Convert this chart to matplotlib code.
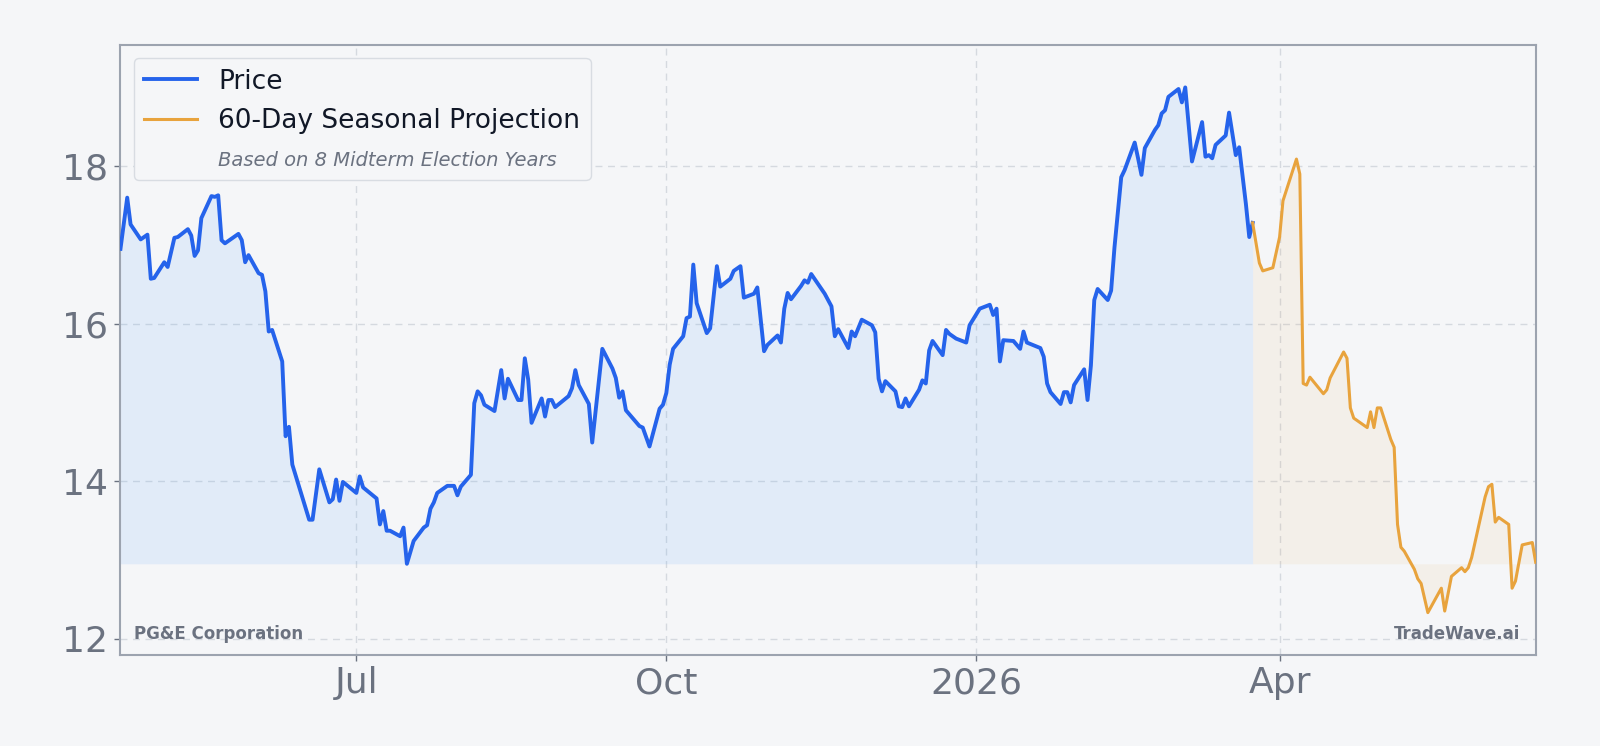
import pandas as pd
import matplotlib
matplotlib.use("Agg")
import matplotlib.pyplot as plt
import matplotlib.dates as mdates

# PG&E daily close (vertices)
price_dates = [
    "2025-04-22", "2025-04-24", "2025-04-25", "2025-04-28", "2025-04-30", "2025-05-01",
    "2025-05-02", "2025-05-05", "2025-05-06", "2025-05-08", "2025-05-09", "2025-05-12",
    "2025-05-13", "2025-05-14", "2025-05-15", "2025-05-16", "2025-05-19", "2025-05-20",
    "2025-05-21", "2025-05-22", "2025-05-23", "2025-05-27", "2025-05-28", "2025-05-29",
    "2025-05-30", "2025-06-02", "2025-06-03", "2025-06-04", "2025-06-05", "2025-06-06",
    "2025-06-09", "2025-06-10", "2025-06-11", "2025-06-12", "2025-06-17", "2025-06-18",
    "2025-06-20", "2025-06-23", "2025-06-24", "2025-06-25", "2025-06-26", "2025-06-27",
    "2025-07-01", "2025-07-02", "2025-07-03", "2025-07-07", "2025-07-08", "2025-07-09",
    "2025-07-10", "2025-07-11", "2025-07-14", "2025-07-15", "2025-07-16", "2025-07-18",
    "2025-07-21", "2025-07-22", "2025-07-23", "2025-07-24", "2025-07-25", "2025-07-28",
    "2025-07-30", "2025-07-31", "2025-08-01", "2025-08-04", "2025-08-05", "2025-08-06",
    "2025-08-07", "2025-08-08", "2025-08-11", "2025-08-13", "2025-08-14", "2025-08-15",
    "2025-08-18", "2025-08-19", "2025-08-20", "2025-08-21", "2025-08-22", "2025-08-25",
    "2025-08-26", "2025-08-27", "2025-08-28", "2025-08-29", "2025-09-02", "2025-09-03",
    "2025-09-04", "2025-09-05", "2025-09-08", "2025-09-09", "2025-09-12", "2025-09-15",
    "2025-09-16", "2025-09-17", "2025-09-18", "2025-09-19", "2025-09-22", "2025-09-23",
    "2025-09-24", "2025-09-26", "2025-09-29", "2025-09-30", "2025-10-01", "2025-10-02",
    "2025-10-03", "2025-10-06", "2025-10-07", "2025-10-08", "2025-10-09", "2025-10-10",
    "2025-10-13", "2025-10-14", "2025-10-16", "2025-10-17", "2025-10-20", "2025-10-21",
    "2025-10-23", "2025-10-24", "2025-10-27", "2025-10-28", "2025-10-30", "2025-10-31",
    "2025-11-03", "2025-11-04", "2025-11-05", "2025-11-06", "2025-11-07", "2025-11-10",
    "2025-11-11", "2025-11-12", "2025-11-13", "2025-11-17", "2025-11-19", "2025-11-20",
    "2025-11-21", "2025-11-24", "2025-11-25", "2025-11-26", "2025-11-28", "2025-12-01",
    "2025-12-02", "2025-12-03", "2025-12-04", "2025-12-05", "2025-12-08", "2025-12-09",
    "2025-12-10", "2025-12-11", "2025-12-12", "2025-12-15", "2025-12-16", "2025-12-17",
    "2025-12-18", "2025-12-19", "2025-12-22", "2025-12-23", "2025-12-24", "2025-12-26",
    "2025-12-29", "2025-12-30", "2026-01-02", "2026-01-05", "2026-01-06", "2026-01-07",
    "2026-01-08", "2026-01-09", "2026-01-12", "2026-01-14", "2026-01-15", "2026-01-16",
    "2026-01-20", "2026-01-21", "2026-01-22", "2026-01-23", "2026-01-26", "2026-01-27",
    "2026-01-28", "2026-01-29", "2026-01-30", "2026-02-02", "2026-02-03", "2026-02-04",
    "2026-02-05", "2026-02-06", "2026-02-09", "2026-02-10", "2026-02-11", "2026-02-13",
    "2026-02-14", "2026-02-17", "2026-02-18", "2026-02-19", "2026-02-20", "2026-02-23",
    "2026-02-24", "2026-02-25", "2026-02-26", "2026-02-27", "2026-03-02", "2026-03-03",
    "2026-03-04", "2026-03-06", "2026-03-09", "2026-03-10", "2026-03-11", "2026-03-12",
    "2026-03-13", "2026-03-16", "2026-03-17", "2026-03-19", "2026-03-20", "2026-03-22",
    "2026-03-23", "2026-03-24",
]
price_values = [
    16.95, 17.60, 17.26, 17.07, 17.13, 16.57,
    16.58, 16.78, 16.72, 17.09, 17.10, 17.20,
    17.12, 16.86, 16.93, 17.34, 17.62, 17.61,
    17.63, 17.06, 17.02, 17.14, 17.06, 16.78,
    16.87, 16.64, 16.62, 16.41, 15.90, 15.92,
    15.52, 14.57, 14.69, 14.21, 13.51, 13.51,
    14.15, 13.73, 13.77, 14.02, 13.75, 13.99,
    13.85, 14.06, 13.92, 13.78, 13.45, 13.62,
    13.37, 13.37, 13.30, 13.41, 12.95, 13.24,
    13.41, 13.44, 13.65, 13.73, 13.85, 13.94,
    13.94, 13.82, 13.93, 14.08, 14.99, 15.14,
    15.09, 14.97, 14.89, 15.41, 15.05, 15.30,
    15.03, 15.03, 15.56, 15.29, 14.74, 15.05,
    14.82, 15.03, 15.03, 14.94, 15.08, 15.18,
    15.41, 15.22, 14.98, 14.49, 15.68, 15.43,
    15.31, 15.06, 15.14, 14.90, 14.75, 14.70,
    14.68, 14.44, 14.92, 14.97, 15.12, 15.48,
    15.68, 15.84, 16.07, 16.09, 16.75, 16.26,
    15.88, 15.94, 16.73, 16.47, 16.57, 16.67,
    16.73, 16.33, 16.38, 16.46, 15.65, 15.73,
    15.85, 15.76, 16.19, 16.39, 16.31, 16.48,
    16.55, 16.52, 16.63, 16.38, 16.22, 15.84,
    15.93, 15.69, 15.90, 15.84, 16.05, 15.98,
    15.89, 15.30, 15.14, 15.27, 15.14, 14.95,
    14.94, 15.05, 14.95, 15.16, 15.28, 15.24,
    15.66, 15.78, 15.60, 15.92, 15.87, 15.81,
    15.76, 15.98, 16.19, 16.24, 16.11, 16.19,
    15.52, 15.79, 15.78, 15.68, 15.90, 15.76,
    15.69, 15.58, 15.24, 15.13, 14.98, 15.13,
    15.13, 15.00, 15.22, 15.42, 15.03, 15.47,
    16.30, 16.44, 16.30, 16.42, 16.97, 17.86,
    17.95, 18.30, 18.10, 17.89, 18.23, 18.46,
    18.52, 18.67, 18.71, 18.88, 18.98, 18.81,
    19.00, 18.06, 18.56, 18.12, 18.14, 18.10,
    18.27, 18.39, 18.68, 18.14, 18.24, 17.52,
    17.10, 17.28,
]

# 60-day seasonal projection (starts from the last close)
proj_dates = [
    "2026-03-24", "2026-03-26", "2026-03-27", "2026-03-30", "2026-04-01", "2026-04-02",
    "2026-04-06", "2026-04-07", "2026-04-08", "2026-04-09", "2026-04-10", "2026-04-14",
    "2026-04-15", "2026-04-16", "2026-04-20", "2026-04-21", "2026-04-22", "2026-04-23",
    "2026-04-27", "2026-04-28", "2026-04-29", "2026-04-30", "2026-05-01", "2026-05-04",
    "2026-05-05", "2026-05-06", "2026-05-07", "2026-05-08", "2026-05-11", "2026-05-12",
    "2026-05-13", "2026-05-15", "2026-05-19", "2026-05-20", "2026-05-22", "2026-05-25",
    "2026-05-26", "2026-05-27", "2026-05-28", "2026-06-01", "2026-06-02", "2026-06-03",
    "2026-06-04", "2026-06-05", "2026-06-08", "2026-06-09", "2026-06-10", "2026-06-12",
    "2026-06-15", "2026-06-16",
]
proj_values = [
    17.28, 16.77, 16.67, 16.71, 17.10, 17.56,
    18.09, 17.90, 15.24, 15.22, 15.32, 15.11,
    15.16, 15.31, 15.64, 15.56, 14.93, 14.80,
    14.68, 14.88, 14.68, 14.93, 14.93, 14.53,
    14.43, 13.45, 13.16, 13.11, 12.88, 12.76,
    12.70, 12.33, 12.64, 12.35, 12.79, 12.90,
    12.85, 12.90, 13.03, 13.80, 13.93, 13.96,
    13.48, 13.54, 13.45, 12.64, 12.73, 13.19,
    13.22, 12.97,
]

BG = "#f5f6f8"
BLUE = "#2563eb"
ORANGE = "#e8a33d"
GRAY = "#6b7280"

px = pd.to_datetime(price_dates)
pj = pd.to_datetime(proj_dates)
base = min(price_values)

fig = plt.figure(figsize=(16, 7.46), dpi=100, facecolor=BG)
ax = fig.add_axes([0.0753, 0.1218, 0.8845, 0.818])
ax.set_facecolor(BG)

ax.fill_between(px, price_values, base, color="#60a5fa", alpha=0.13, lw=0)
ax.fill_between(pj, proj_values, base, color=ORANGE, alpha=0.08, lw=0)
ax.plot(px, price_values, color=BLUE, lw=2.8, label="Price", zorder=3)
ax.plot(pj, proj_values, color=ORANGE, lw=2.2, label="60-Day Seasonal Projection", zorder=3)
ax.plot([], [], " ", label="Based on 8 Midterm Election Years")

ax.set_xlim(px[0], pj[-1])
ax.set_ylim(11.79, 19.54)
ax.set_yticks([12, 14, 16, 18])

ax.xaxis.set_major_locator(mdates.MonthLocator(bymonth=[1, 4, 7, 10]))
ax.xaxis.set_major_formatter(plt.FuncFormatter(
    lambda x, pos: mdates.num2date(x).strftime("%Y" if mdates.num2date(x).month == 1 else "%b")))

ax.grid(True, color="#d5d9df", linestyle=(0, (5, 4)), lw=1.0)
ax.set_axisbelow(True)
ax.tick_params(labelsize=26, colors=GRAY, length=4, width=1)
ax.tick_params(axis="x", pad=4)
ax.tick_params(axis="y", pad=5)
for s in ax.spines.values():
    s.set_color("#9ca3af")
    s.set_linewidth(1.5)

leg = ax.legend(loc="upper left", fontsize=19, frameon=True, facecolor=BG,
                edgecolor="#d8dce2", framealpha=1.0, handlelength=2.0)
for t in leg.get_texts():
    t.set_color("#111827")
hint = leg.get_texts()[2]
hint.set_fontsize(14)
hint.set_fontstyle("italic")
hint.set_color(GRAY)

ax.text(0.0095, 0.035, "PG&E Corporation", transform=ax.transAxes, fontsize=12,
        fontweight="bold", color=GRAY, ha="left", va="center")
ax.text(0.989, 0.035, "TradeWave.ai", transform=ax.transAxes, fontsize=12,
        fontweight="bold", color=GRAY, ha="right", va="center")

fig.savefig("out.png", dpi=100, facecolor=BG)
